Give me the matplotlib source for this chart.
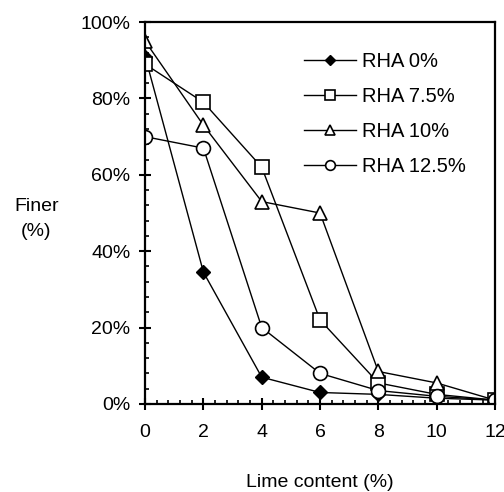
import matplotlib.pyplot as plt
from matplotlib.ticker import MultipleLocator, PercentFormatter

plt.rcParams["font.family"] = ["Liberation Sans", "DejaVu Sans"]

lime = [0, 2, 4, 6, 8, 10, 12]
rha_0 = [91, 34.5, 7, 3, 2.5, 1.5, 1]
rha_75 = [89, 79, 62, 22, 5.5, 2.5, 1]
rha_10 = [95, 73, 53, 50, 8.5, 5.5, 1]
rha_125 = [70, 67, 20, 8, 3.5, 2, 1]

fig = plt.figure(figsize=(5.04, 4.92), dpi=100)
ax = fig.add_axes([0.288, 0.179, 0.694, 0.776])

ax.plot(lime, rha_0, color="black", lw=1, marker="D", ms=7,
        mfc="black", mec="black", label="RHA 0%")
ax.plot(lime, rha_75, color="black", lw=1, marker="s", ms=10,
        mfc="white", mec="black", mew=1.2, label="RHA 7.5%")
ax.plot(lime, rha_10, color="black", lw=1, marker="^", ms=10,
        mfc="white", mec="black", mew=1.2, label="RHA 10%")
ax.plot(lime, rha_125, color="black", lw=1, marker="o", ms=10,
        mfc="white", mec="black", mew=1.2, label="RHA 12.5%")

ax.set_xlim(0, 12)
ax.set_ylim(0, 100)
ax.xaxis.set_major_locator(MultipleLocator(2))
ax.xaxis.set_minor_locator(MultipleLocator(0.4))
ax.yaxis.set_major_locator(MultipleLocator(20))
ax.yaxis.set_minor_locator(MultipleLocator(4))
ax.yaxis.set_major_formatter(PercentFormatter(decimals=0))

ax.tick_params(which="major", direction="inout", length=9, width=1.5,
               labelsize=14)
ax.tick_params(axis="x", which="major", pad=10)
ax.tick_params(axis="y", which="major", pad=6)
ax.tick_params(which="minor", direction="in", length=3, width=1.2)
for s in ax.spines.values():
    s.set_linewidth(1.6)

ax.set_xlabel("Lime content (%)", fontsize=14, labelpad=24)
fig.text(0.072, 0.555, "Finer\n(%)", fontsize=14, ha="center", va="center",
         linespacing=1.6)

ax.legend(loc="upper left", bbox_to_anchor=(0.453, 0.922), frameon=False,
          fontsize=14.5, handlelength=2.6, handletextpad=0.3,
          labelspacing=0.8, borderaxespad=0, borderpad=0, markerscale=0.7)

fig.savefig("out.png", dpi=100)
